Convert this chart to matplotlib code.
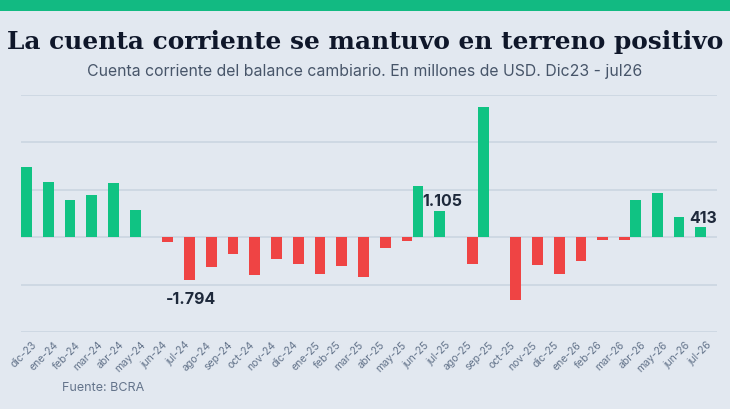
import matplotlib
matplotlib.use("Agg")
import matplotlib.pyplot as plt
from matplotlib.patches import Rectangle
import numpy as np

categories = ["dic-23", "ene-24", "feb-24", "mar-24", "abr-24", "may-24", "jun-24", "jul-24",
              "ago-24", "sep-24", "oct-24", "nov-24", "dic-24", "ene-25", "feb-25", "mar-25",
              "abr-25", "may-25", "jun-25", "jul-25", "ago-25", "sep-25", "oct-25", "nov-25",
              "dic-25", "ene-26", "feb-26", "mar-26", "abr-26", "may-26", "jun-26", "jul-26"]
values = [2950, 2340, 1560, 1800, 2270, 1140, -210, -1794,
          -1270, -690, -1590, -915, -1110, -1535, -1225, -1680,
          -450, -140, 2150, 1105, -1125, 5500, -2630, -1155,
          -1560, -985, -100, -100, 1580, 1870, 860, 413]
labels = {"jul-24": "-1.794", "jul-25": "1.105", "jul-26": "413"}

BG = "#E2E8F0"
GREEN = "#10C383"
RED = "#EF4444"
GRID = "#CBD5E1"

fig = plt.figure(figsize=(7.3, 4.1), dpi=100, facecolor=BG)
fig.patches.append(Rectangle((0, 1 - 12 / 410), 1, 12 / 410, transform=fig.transFigure,
                             facecolor="#12BA82", edgecolor="none"))

ax = fig.add_axes([21 / 730, 77 / 410, 696 / 730, 237 / 410])
ax.set_facecolor(BG)

x = np.arange(len(categories))
vals = np.array(values, dtype=float)
pos = np.where(vals > 0, vals, 0)
neg = np.where(vals < 0, vals, 0)
w = 0.49
ax.bar(x - 0.25, pos, width=w, color=GREEN, zorder=3)
ax.bar(x + 0.25, neg, width=w, color=RED, zorder=3)

ax.set_xlim(-0.5, len(categories) - 0.5)
ax.set_ylim(-4000, 6000)
ax.set_yticks([-4000, -2000, 0, 2000, 4000, 6000])
ax.yaxis.grid(True, color=GRID, lw=1.2, zorder=0)
ax.tick_params(axis="y", left=False, labelleft=False)
for s in ax.spines.values():
    s.set_visible(False)

ax.set_xticks(x)
ax.set_xticklabels(categories, rotation=45, ha="right", rotation_mode="anchor",
                   fontsize=7.5, color="#64748B", family="Inter")
ax.tick_params(axis="x", length=0, pad=5)

for cat, txt in labels.items():
    i = categories.index(cat)
    v = values[i]
    if v >= 0:
        ax.annotate(txt, (i - 0.25, v), xytext=(2, 2), textcoords="offset points",
                    ha="center", va="bottom", fontsize=11.5, fontweight="bold",
                    color="#1E293B", family="Inter", zorder=4)
    else:
        ax.annotate(txt, (i + 0.25, v), xytext=(1, -8), textcoords="offset points",
                    ha="center", va="top", fontsize=11.5, fontweight="bold",
                    color="#1E293B", family="Inter", zorder=4)

fig.text(0.5, 1 - 42 / 410, "La cuenta corriente se mantuvo en terreno positivo",
         ha="center", va="center", fontsize=17.9, fontweight="bold",
         family="DejaVu Serif", color="#0F172A")
fig.text(0.5, 1 - 72 / 410, "Cuenta corriente del balance cambiario. En millones de USD. Dic23 - jul26",
         ha="center", va="center", fontsize=11.4, family="Inter", color="#475569")
fig.text(62 / 730, 1 - 388 / 410, "Fuente: BCRA", ha="left", va="center",
         fontsize=9, family="Inter", color="#64748B")

fig.savefig("out.png", dpi=100, facecolor=BG)
